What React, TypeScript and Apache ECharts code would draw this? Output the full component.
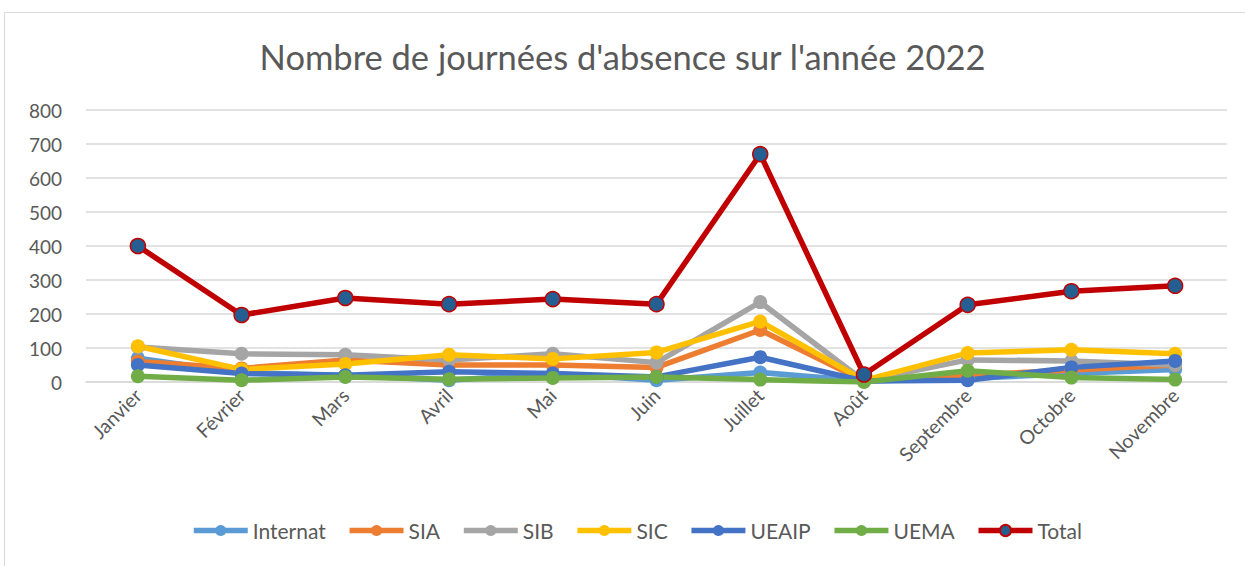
import React, { useEffect, useRef } from "react";
import * as echarts from "echarts";

const months = ["Janvier", "Février", "Mars", "Avril", "Mai", "Juin", "Juillet", "Août", "Septembre", "Octobre", "Novembre"];
const internat = [70, 27, 20, 5, 25, 5, 28, 3, 10, 25, 37];
const sia = [60, 40, 65, 50, 50, 43, 153, 3, 20, 35, 50];
const sib = [103, 83, 80, 65, 83, 57, 235, 3, 65, 62, 50];
const sic = [105, 37, 53, 80, 68, 87, 178, 5, 85, 95, 83];
const ueaip = [50, 25, 20, 30, 25, 15, 73, 3, 5, 43, 62];
const uema = [17, 5, 15, 8, 12, 15, 7, 0, 33, 13, 7];
const total = [400, 197, 247, 229, 244, 229, 670, 22, 227, 267, 283];

const seriesDefs = [
  { name: "Internat", data: internat, color: "#5B9BD5" },
  { name: "SIA", data: sia, color: "#ED7D31" },
  { name: "SIB", data: sib, color: "#A5A5A5" },
  { name: "SIC", data: sic, color: "#FFC000" },
  { name: "UEAIP", data: ueaip, color: "#4472C4" },
  { name: "UEMA", data: uema, color: "#70AD47" },
];

export default function App() {
  const ref = useRef<HTMLDivElement>(null);
  useEffect(() => {
    document.body.style.margin = "0";
    const chart = echarts.init(ref.current!, null, { renderer: "svg" });
    const font = "Lato, 'Open Sans', sans-serif";
    const series: any[] = seriesDefs.map((s) => ({
      name: s.name,
      type: "line",
      data: s.data,
      symbol: "circle",
      symbolSize: 14,
      lineStyle: { width: 5.5, color: s.color },
      itemStyle: { color: s.color, borderWidth: 0 },
    }));
    series.push({
      name: "Total",
      type: "line",
      data: total,
      symbol: "circle",
      symbolSize: 15,
      lineStyle: { width: 5.5, color: "#C00000" },
      itemStyle: { color: "#255E91", borderColor: "#C00000", borderWidth: 1.5 },
    });
    chart.setOption({
      animation: false,
      color: [...seriesDefs.map((s) => s.color), "#C00000"],
      title: {
        text: "Nombre de journées d'absence sur l'année 2022",
        left: "center",
        top: 34,
        textStyle: { fontFamily: font, fontSize: 34.5, fontWeight: "normal", color: "#595959" },
      },
      legend: {
        bottom: 20,
        left: 186,
        itemWidth: 54,
        itemHeight: 14,
        itemGap: 21,
        lineStyle: { width: 5.5 },
        textStyle: { fontFamily: font, fontSize: 21, color: "#595959" },
        data: [...seriesDefs.map((s) => s.name), "Total"],
      },
      grid: { left: 86, right: 18, top: 110, bottom: 184 },
      xAxis: {
        type: "category",
        data: months,
        boundaryGap: true,
        axisLine: { show: true, lineStyle: { color: "#D9D9D9", width: 1.5 } },
        axisTick: { show: false },
        axisLabel: { rotate: 45, fontFamily: font, fontSize: 19.5, color: "#595959", margin: 10 },
      },
      yAxis: {
        type: "value",
        min: 0,
        max: 800,
        interval: 100,
        axisLine: { show: false },
        axisTick: { show: false },
        splitLine: { lineStyle: { color: "#D9D9D9", width: 1.5 } },
        axisLabel: { fontFamily: font, fontSize: 19, color: "#595959", margin: 24 },
      },
      series,
    });
    return () => chart.dispose();
  }, []);
  return (
    <div style={{ position: "relative", width: 1245, height: 566 }}>
      <div style={{ position: "absolute", left: 4, top: 12, width: 1245, height: 566, border: "1px solid #D9D9D9", boxSizing: "border-box" }} />
      <div ref={ref} style={{ position: "absolute", left: 0, top: 0, width: 1245, height: 566 }} />
    </div>
  );
}
